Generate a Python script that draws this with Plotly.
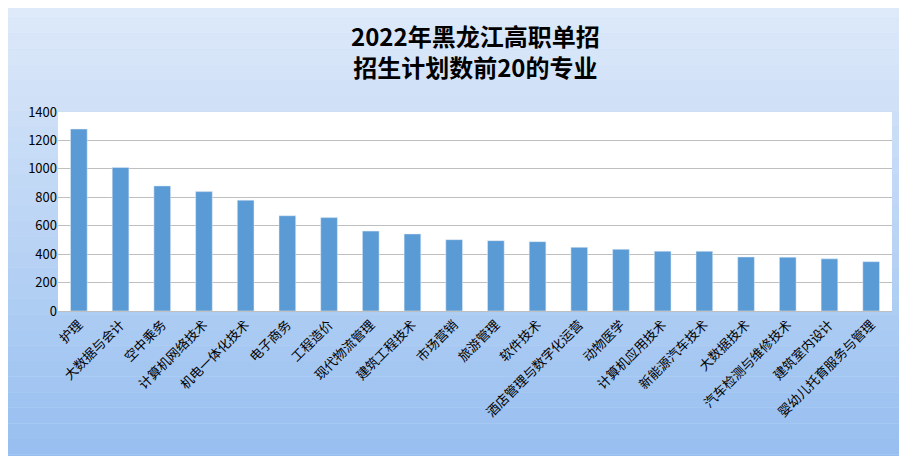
import plotly.graph_objects as go

categories = ["护理","大数据与会计","空中乘务","计算机网络技术","机电一体化技术","电子商务","工程造价",
              "现代物流管理","建筑工程技术","市场营销","旅游管理","软件技术","酒店管理与数字化运营",
              "动物医学","计算机应用技术","新能源汽车技术","大数据技术","汽车检测与维修技术",
              "建筑室内设计","婴幼儿托育服务与管理"]
values = [1280,1010,880,840,780,670,657,562,542,502,495,488,448,434,421,420,380,379,367,347]
y_ticks = [0,200,400,600,800,1000,1200,1400]

fig = go.Figure(go.Bar(x=categories, y=values, marker_color="#5b9bd5", width=0.4))

shapes = []
n = 30
top = (222, 234, 250); bot = (150, 190, 240)
for i in range(n):
    t = i / (n - 1)
    c = tuple(int(top[k] + (bot[k] - top[k]) * t) for k in range(3))
    shapes.append(dict(type="rect", xref="paper", yref="paper", layer="below",
                       x0=-0.1, x1=1.1, y0=1.55 - (i + 1) * 2.35 / n, y1=1.55 - i * 2.35 / n,
                       fillcolor="rgb(%d,%d,%d)" % c, line_width=0))
shapes.append(dict(type="rect", xref="paper", yref="paper", layer="below",
                   x0=0, x1=1, y0=0, y1=1, fillcolor="white", line_width=0))

fig.update_layout(
    width=907, height=456,
    paper_bgcolor="#c5daf5", plot_bgcolor="white",
    margin=dict(l=50, r=23, t=104, b=153),
    annotations=[dict(text="<b>2022年黑龙江高职单招<br>招生计划数前20的专业</b>", x=0.5, y=1.48,
                      xref="paper", yref="paper", yanchor="top", showarrow=False,
                      font=dict(family="Noto Sans CJK SC", size=24, color="black"))],
    font=dict(family="Noto Sans CJK SC", size=13, color="black"),
    showlegend=False, shapes=shapes, bargap=0.5,
)
fig.update_xaxes(tickangle=-45, showline=True, linecolor="#bfbfbf", ticks="")
fig.update_yaxes(range=[0,1400], tickvals=y_ticks, showgrid=True, gridcolor="#bfbfbf",
                 zeroline=False, showline=False)
fig.write_html("out.html")
